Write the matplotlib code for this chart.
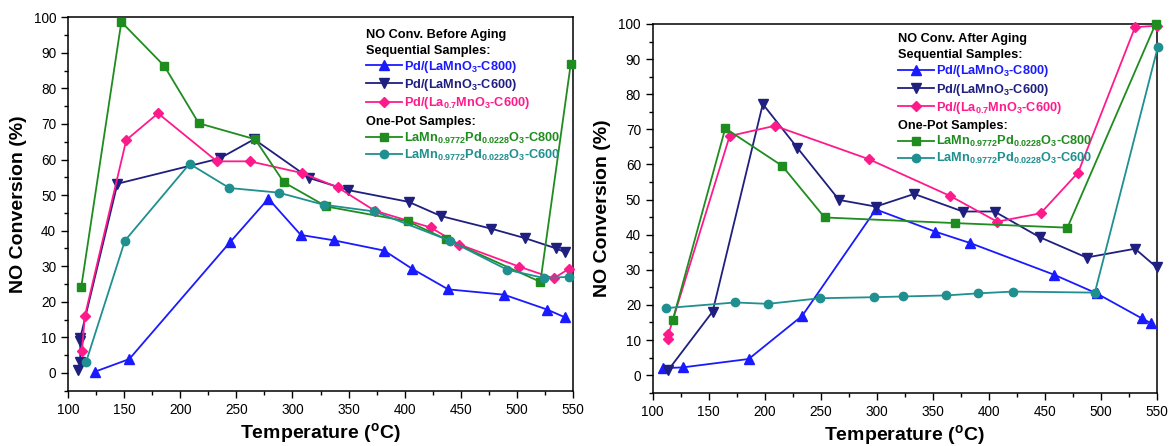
import matplotlib
matplotlib.use("Agg")
import matplotlib.pyplot as plt
from matplotlib.ticker import MultipleLocator

plt.rcParams['font.family'] = ['Liberation Sans', 'DejaVu Sans']
plt.rcParams['mathtext.fontset'] = 'custom'
plt.rcParams['mathtext.rm'] = 'Liberation Sans'
plt.rcParams['mathtext.bf'] = 'Liberation Sans:bold'
plt.rcParams['mathtext.default'] = 'bf'

# ---- before aging (left panel) ----
t_b_c800 = [123.6, 154.6, 244.2, 278.5, 307.4, 336.6, 381.7, 406.5, 438.7, 488.5, 527.1, 543.0]
v_b_c800 = [0.3, 3.9, 36.7, 49.0, 38.8, 37.3, 34.4, 29.3, 23.5, 22.0, 17.8, 15.6]

t_b_c600 = [108.8, 110.9, 110.9, 110.9, 144.0, 235.0, 265.8, 315.0, 349.8, 403.5, 432.4, 476.6, 507.2, 535.0, 543.0]
v_b_c600 = [0.9, 3.0, 8.9, 9.8, 53.2, 60.3, 65.7, 54.8, 51.4, 48.1, 44.1, 40.6, 37.9, 35.0, 33.9]

t_b_la07 = [112.4, 115.0, 151.9, 180.2, 232.7, 262.0, 308.6, 340.2, 373.4, 423.0, 448.7, 501.9, 532.7, 546.0]
v_b_la07 = [6.2, 16.0, 65.5, 73.0, 59.5, 59.5, 56.2, 52.2, 45.6, 40.9, 36.1, 29.9, 26.6, 29.2]

t_b_op800 = [111.8, 147.5, 185.8, 216.5, 266.7, 292.3, 330.2, 402.9, 436.8, 520.9, 548.0]
v_b_op800 = [24.2, 98.7, 86.3, 70.2, 65.7, 53.6, 46.8, 42.6, 37.6, 25.6, 87.0]

t_b_op600 = [116.1, 150.7, 208.3, 243.7, 287.6, 327.7, 373.0, 440.0, 491.4, 523.9, 546.0]
v_b_op600 = [3.1, 37.2, 58.8, 52.0, 50.7, 47.3, 45.4, 37.2, 29.0, 26.7, 27.0]

# ---- after aging (right panel) ----
t_a_c800 = [109.6, 126.6, 185.7, 233.5, 299.2, 352.0, 383.7, 458.4, 496.3, 536.6, 545.0]
v_a_c800 = [2.0, 2.2, 4.6, 16.9, 47.2, 40.9, 37.6, 28.6, 23.3, 16.2, 14.8]

t_a_c600 = [114.0, 153.5, 198.3, 229.0, 266.4, 299.2, 333.5, 376.9, 405.2, 445.5, 487.4, 530.7, 550.0]
v_a_c600 = [1.5, 18.1, 77.2, 64.8, 49.9, 48.0, 51.6, 46.6, 46.6, 39.3, 33.5, 36.0, 30.7]

t_a_la07 = [114.0, 114.0, 168.7, 209.0, 293.0, 365.8, 407.6, 446.4, 479.9, 530.7, 550.0]
v_a_la07 = [10.3, 11.6, 68.1, 71.0, 61.5, 51.0, 43.7, 46.1, 57.7, 99.1, 99.5]

t_a_op800 = [117.9, 164.8, 215.6, 253.5, 370.0, 470.3, 549.0]
v_a_op800 = [15.7, 70.3, 59.6, 44.9, 43.3, 42.0, 100.0]

t_a_op600 = [112.0, 173.8, 202.7, 249.3, 297.7, 323.1, 361.9, 390.9, 421.7, 494.8, 551.0]
v_a_op600 = [19.1, 20.7, 20.3, 21.9, 22.2, 22.4, 22.7, 23.3, 23.8, 23.5, 93.4]

labels = ['Pd/(LaMnO$_3$-C800)', 'Pd/(LaMnO$_3$-C600)', 'Pd/(La$_{0.7}$MnO$_3$-C600)',
          'LaMn$_{0.9772}$Pd$_{0.0228}$O$_3$-C800', 'LaMn$_{0.9772}$Pd$_{0.0228}$O$_3$-C600']
colors = ['#1a1aff', '#1f1f7f', '#ff1a8c', '#1f8c1f', '#1f8f8f']
markers = ['^', 'v', 'D', 's', 'o']
sizes = [6.5, 6.5, 5.5, 5.5, 6]

before = [(t_b_c800, v_b_c800), (t_b_c600, v_b_c600), (t_b_la07, v_b_la07),
          (t_b_op800, v_b_op800), (t_b_op600, v_b_op600)]
after = [(t_a_c800, v_a_c800), (t_a_c600, v_a_c600), (t_a_la07, v_a_la07),
         (t_a_op800, v_a_op800), (t_a_op600, v_a_op600)]

fig = plt.figure(figsize=(11.75, 4.46), dpi=100)
ax1 = fig.add_axes([0.0579, 0.124, 0.4298, 0.8372])
ax2 = fig.add_axes([0.5555, 0.1195, 0.4289, 0.8267])

LEG_FS = 9.2


def draw(ax, data, title, anchor_x, top):
    lines = []
    for (t, v), lab, c, m, s in zip(data, labels, colors, markers, sizes):
        ln, = ax.plot(t, v, color=c, marker=m, ms=s, lw=1.3, label=lab, clip_on=False, zorder=3)
        lines.append(ln)
    ax.set_xlim(100, 550)
    ax.set_ylim(-5, 100)
    ax.xaxis.set_major_locator(MultipleLocator(50))
    ax.xaxis.set_minor_locator(MultipleLocator(25))
    ax.yaxis.set_major_locator(MultipleLocator(10))
    ax.yaxis.set_minor_locator(MultipleLocator(5))
    ax.tick_params(which='both', direction='out', top=False, right=False, labelsize=9.8)
    ax.tick_params(which='major', length=5, width=1)
    ax.tick_params(which='minor', length=3, width=1)
    for sp in ax.spines.values():
        sp.set_linewidth(1.1)
    ax.set_xlabel('Temperature ($^\\mathregular{o}$C)', fontsize=14, fontweight='bold', labelpad=3)
    ax.set_ylabel('NO Conversion (%)', fontsize=14, fontweight='bold', labelpad=5)

    common = dict(loc='upper left', frameon=False, fontsize=LEG_FS, handlelength=2.8,
                  handletextpad=0.15, labelspacing=0.17, borderpad=0, borderaxespad=0,
                  alignment='left', title_fontproperties={'weight': 'bold', 'size': LEG_FS})
    leg1 = ax.legend(handles=lines[:3], title=title + '\nSequential Samples:',
                     bbox_to_anchor=(anchor_x, top), **common)
    leg1.get_title().set_linespacing(1.45)
    for txt, c in zip(leg1.get_texts(), colors[:3]):
        txt.set_color(c)
        txt.set_fontweight('bold')
    ax.add_artist(leg1)
    leg2 = ax.legend(handles=lines[3:], title='One-Pot Samples:',
                     bbox_to_anchor=(anchor_x, top - 0.235), **common)
    for txt, c in zip(leg2.get_texts(), colors[3:]):
        txt.set_color(c)
        txt.set_fontweight('bold')


draw(ax1, before, 'NO Conv. Before Aging', 0.59, 0.97)
draw(ax2, after, 'NO Conv. After Aging', 0.487, 0.975)

fig.savefig('out.png', dpi=100)
